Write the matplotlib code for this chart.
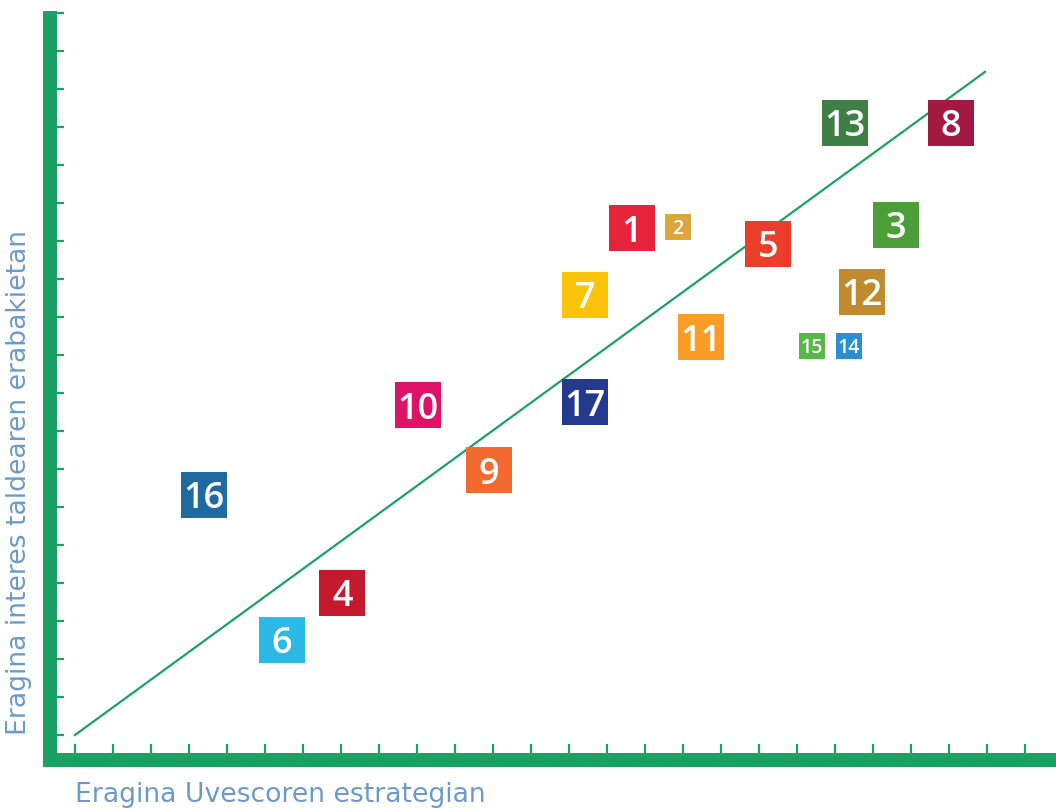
import matplotlib.pyplot as plt

plt.rcParams['font.family'] = ['Open Sans', 'DejaVu Sans']

# Helburuak (ODS) eta haien kokapena
helburuak = ['1', '2', '3', '4', '5', '6', '7', '8', '9', '10',
             '11', '12', '13', '14', '15', '16', '17']
eragina_x = [15.66, 16.87, 22.60, 8.03, 19.24, 6.45, 14.42, 24.05, 11.89, 10.03,
             17.47, 21.71, 21.26, 21.37, 20.39, 4.39, 14.42]
eragina_y = [14.34, 14.37, 14.42, 4.74, 13.92, 3.50, 12.58, 17.11, 7.97, 9.68,
             11.47, 12.66, 17.11, 11.24, 11.24, 7.32, 9.76]
txikiak = ['2', '14', '15']
koloreak = ['#E5243B', '#DDA63A', '#4C9F38', '#C5192D', '#EA3E2B', '#2DB9E5',
            '#FCC30B', '#A21942', '#F26A2E', '#DD1367', '#F99D26', '#BF8B2E',
            '#3F7E44', '#2A8FD0', '#56B947', '#1F6A9E', '#243A8F']

# Joera lerroa
lerro_x = [1, 24.95]
lerro_y = [1, 18.45]

berdea = '#1BA163'
urdina = '#6B9AC9'

fig = plt.figure(figsize=(10.56, 8.10), dpi=100)
ax = fig.add_axes([50 / 1056, 50 / 810, 1006 / 1056, 749 / 810])
ax.set_xlim(0.342, 26.816)
ax.set_ylim(0.342, 20.05)

ax.plot(lerro_x, lerro_y, color=berdea, lw=1.6, zorder=1)

for h, x, y, c in zip(helburuak, eragina_x, eragina_y, koloreak):
    if h in txikiak:
        tam, fs = 18.7, 14
    else:
        tam, fs = 33.8, 26
    ax.scatter([x], [y], marker='s', s=tam ** 2, color=c, linewidths=0, zorder=2)
    ax.text(x, y, h, color='white', fontsize=fs, fontweight='semibold',
            ha='center', va='center_baseline', zorder=3)

for s in ['top', 'right']:
    ax.spines[s].set_visible(False)
for s in ['left', 'bottom']:
    ax.spines[s].set_color(berdea)
    ax.spines[s].set_linewidth(10.1)
ax.spines['bottom'].set_capstyle('projecting')
ax.spines['left'].set_capstyle('butt')

ax.set_xticks(range(1, 27))
ax.set_yticks(range(1, 21))
ax.tick_params(axis='x', direction='in', length=11.5, width=1.6, color=berdea,
               labelbottom=False)
ax.tick_params(axis='y', direction='in', length=10, width=1.6, color=berdea,
               labelleft=False)

fig.text(75 / 1056, 1 - 795 / 810, 'Eragina Uvescoren estrategian', color=urdina,
         fontsize=19.2, family='DejaVu Sans', ha='left', va='center')
fig.text(19 / 1056, 1 - 735 / 810, 'Eragina interes taldearen erabakietan', color=urdina,
         fontsize=19.2, family='DejaVu Sans', rotation=90, ha='center', va='bottom')

fig.savefig('out.png', dpi=100)
